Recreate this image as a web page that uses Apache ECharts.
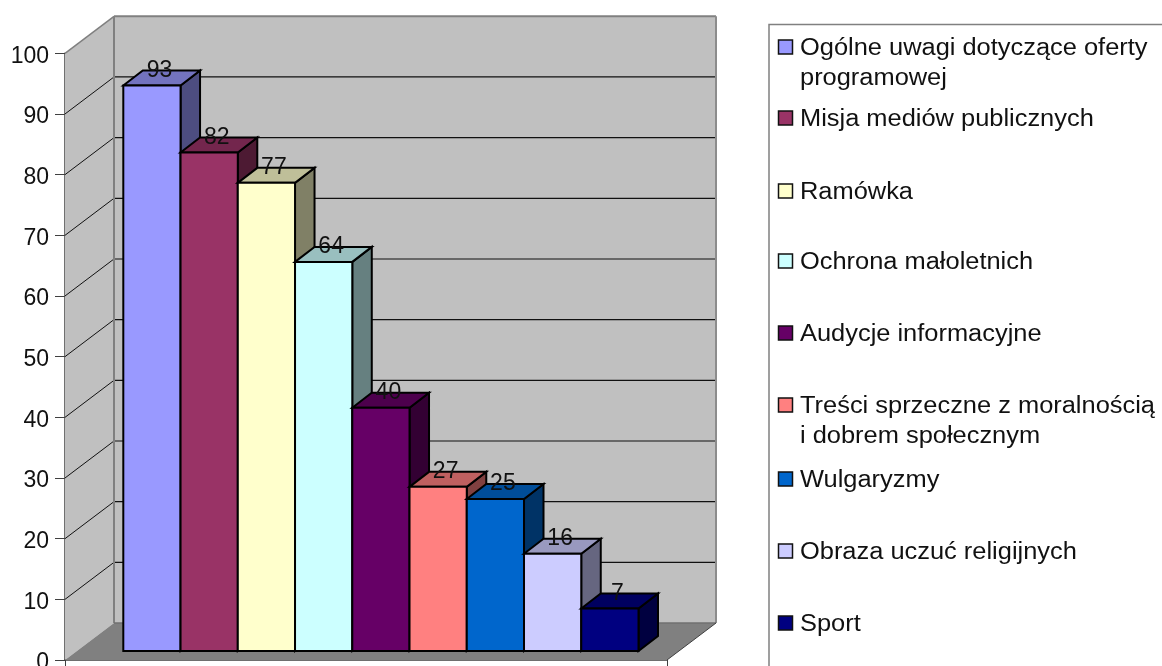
<!DOCTYPE html>
<html>
<head>
<meta charset="utf-8">
<style>
  html, body { margin: 0; padding: 0; background: #fff; }
  #chart { width: 1162px; height: 666px; }
</style>
<script src="https://cdn.jsdelivr.net/npm/echarts@6/dist/echarts.min.js"></script>
</head>
<body>
<div id="chart"></div>
<script>
const categories = [
  'Ogólne uwagi dotyczące oferty\nprogramowej',
  'Misja mediów publicznych',
  'Ramówka',
  'Ochrona małoletnich',
  'Audycje informacyjne',
  'Treści sprzeczne z moralnością\ni dobrem społecznym',
  'Wulgaryzmy',
  'Obraza uczuć religijnych',
  'Sport'
];
const values = [93, 82, 77, 64, 40, 27, 25, 16, 7];
const colors = ['#9999ff', '#993366', '#ffffcc', '#ccffff', '#660066', '#ff8080', '#0066cc', '#ccccff', '#000080'];
const yTicks = [0, 10, 20, 30, 40, 50, 60, 70, 80, 90, 100];

// offsets of the pseudo 3d look
const WALL_DX = 49, WALL_DY = -37;
const BAR_DX = 19.5, BAR_DY = -15;
const legendRows = [47, 118, 191, 261, 333, 405, 479, 551, 623];
const FONT = '"Liberation Sans", Arial, sans-serif';

function shade(hex, k) {
  const n = parseInt(hex.slice(1), 16);
  const c = [n >> 16, (n >> 8) & 255, n & 255].map((v) => Math.round(v * k));
  return 'rgb(' + c.join(',') + ')';
}

function poly(points, fill, stroke, width, z2) {
  return {
    type: 'polygon',
    z2: z2 || 0,
    shape: { points: points },
    style: { fill: fill, stroke: stroke, lineWidth: width, lineJoin: 'miter' }
  };
}

function line(a, b, color, width, z2) {
  return {
    type: 'line',
    z2: z2 || 0,
    shape: { x1: a[0], y1: a[1], x2: b[0], y2: b[1] },
    style: { stroke: color, lineWidth: width }
  };
}

function back(p) {
  return [p[0] + WALL_DX, p[1] + WALL_DY];
}

// walls, floor and the gridlines hang off the visible value axis
function renderWalls(params, api) {
  const a = api.coord([0, 0]);
  const b = api.coord([0, 100]);
  const c = api.coord([1, 0]);
  const kids = [
    poly([a, b, back(b), back(a)], '#c0c0c0', null, 0),
    poly([back(a), back(b), back([c[0], b[1]]), back(c)], '#c0c0c0', null, 0),
    poly([a, c, back(c), back(a)], '#808080', null, 0)
  ];
  yTicks.slice(1, -1).forEach((t) => {
    const p = api.coord([0, t]);
    const q = api.coord([1, t]);
    kids.push(line(p, back(p), '#111', 1, 1));
    kids.push(line(back(p), back(q), '#111', 1.2, 1));
  });
  kids.push(line(b, back(b), '#808080', 1.5, 2));
  kids.push(line(back(a), back(b), '#808080', 2, 2));
  kids.push(line(back(b), back([c[0], b[1]]), '#808080', 2, 2));
  kids.push(line(back([c[0], b[1]]), back(c), '#8c8c8c', 2, 2));
  kids.push(line(back(a), back(c), '#707070', 1.5, 2));
  kids.push(line(c, back(c), '#404040', 1, 2));
  return { type: 'group', children: kids };
}

function renderBar(params, api) {
  const i = api.value(0);
  const v = api.value(1);
  const w = api.size([1, 0])[0];
  const mid = api.coord([i, v]);
  const base = api.coord([i, 0]);
  const x0 = mid[0] - w / 2;
  const x1 = mid[0] + w / 2;
  const top = mid[1];
  const bot = base[1];
  const fill = colors[i];
  const border = '#000';
  return {
    type: 'group',
    children: [
      poly([[x1, top], [x1 + BAR_DX, top + BAR_DY], [x1 + BAR_DX, bot + BAR_DY], [x1, bot]], shade(fill, 0.5), border, 2),
      poly([[x0, top], [x0 + BAR_DX, top + BAR_DY], [x1 + BAR_DX, top + BAR_DY], [x1, top]], shade(fill, 0.75), border, 2),
      poly([[x0, top], [x1, top], [x1, bot], [x0, bot]], fill, border, 2),
      {
        type: 'text',
        z2: 100,
        style: {
          text: String(v),
          x: mid[0] + 7.5,
          y: top + BAR_DY,
          align: 'center',
          verticalAlign: 'middle',
          fill: '#111',
          font: '23px ' + FONT
        }
      }
    ]
  };
}

const legendGraphics = [
  {
    type: 'polyline',
    silent: true,
    shape: { points: [[769, 666], [769, 24.5], [1162, 24.5]] },
    style: { fill: null, stroke: '#808080', lineWidth: 1.5 }
  }
];
categories.forEach((name, i) => {
  legendGraphics.push({
    type: 'rect',
    silent: true,
    shape: { x: 778.5, y: legendRows[i] - 7, width: 14, height: 14 },
    style: { fill: colors[i], stroke: '#111', lineWidth: 1.5 }
  });
  // the reference sets this text wider than the font does, stretch it to fit
  legendGraphics.push({
    type: 'text',
    silent: true,
    x: 800,
    y: legendRows[i] - 13,
    scaleX: 1.105,
    style: {
      text: name,
      fill: '#111',
      font: '23px ' + FONT,
      lineHeight: 30
    }
  });
});

const chart = echarts.init(document.getElementById('chart'));
chart.setOption({
  animation: false,
  backgroundColor: '#fff',
  graphic: legendGraphics,
  grid: [
    // visible axis, front edge of the left wall
    { left: 65, top: 53.3, width: 602, height: 606.7, outerBoundsMode: 'none' },
    // plane the bars stand on
    { left: 123.3, top: 43, width: 515.2, height: 608, outerBoundsMode: 'none' }
  ],
  xAxis: [
    {
      gridIndex: 0,
      type: 'value',
      min: 0,
      max: 1,
      interval: 1,
      axisLine: { show: true, lineStyle: { color: '#404040', width: 1.5 } },
      axisTick: { show: true, length: 9, lineStyle: { color: '#404040', width: 1 } },
      axisLabel: { show: false },
      splitLine: { show: false }
    },
    {
      gridIndex: 1,
      type: 'category',
      data: values.map((v, i) => i),
      show: false
    }
  ],
  yAxis: [
    {
      gridIndex: 0,
      type: 'value',
      min: 0,
      max: 100,
      interval: 10,
      axisLine: { show: true, onZero: false, lineStyle: { color: '#404040', width: 1.5 } },
      axisTick: { show: true, length: 10, lineStyle: { color: '#404040', width: 1 } },
      // top + small lineHeight nudges the digits down onto the tick
      axisLabel: { margin: 16, color: '#111', fontSize: 23, fontFamily: FONT, verticalAlign: 'top', lineHeight: 6 },
      splitLine: { show: false }
    },
    {
      gridIndex: 1,
      type: 'value',
      min: 0,
      max: 100,
      show: false
    }
  ],
  series: [
    {
      type: 'custom',
      xAxisIndex: 0,
      yAxisIndex: 0,
      silent: true,
      clip: false,
      z: 1,
      data: [[0, 0]],
      renderItem: renderWalls
    },
    {
      type: 'custom',
      xAxisIndex: 1,
      yAxisIndex: 1,
      clip: false,
      z: 5,
      encode: { x: 0, y: 1 },
      data: values.map((v, i) => [i, v]),
      renderItem: renderBar
    }
  ]
});
</script>
</body>
</html>
